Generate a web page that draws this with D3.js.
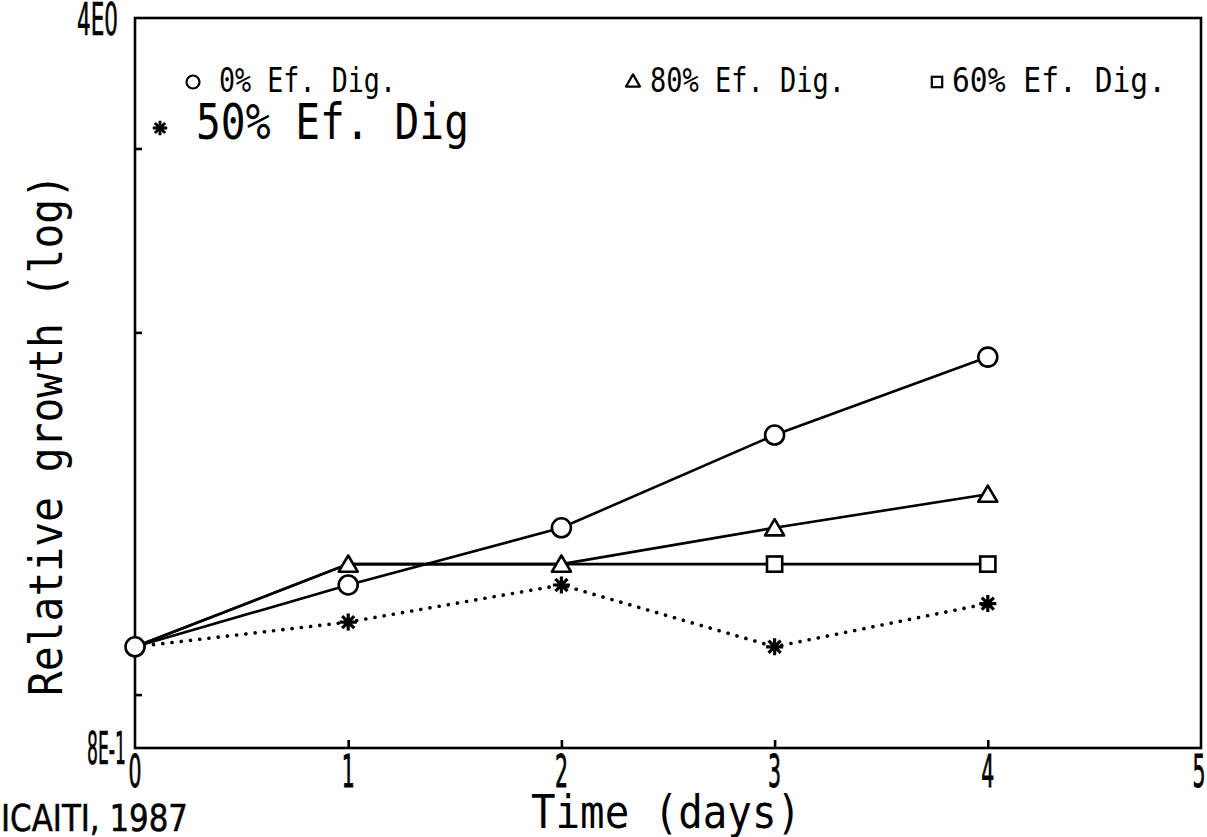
<!DOCTYPE html>
<html>
<head>
<meta charset="utf-8">
<script src="https://cdn.jsdelivr.net/npm/d3@7"></script>
<style>
  html, body { margin: 0; padding: 0; background: #fff; }
  svg { display: block; }
  text { fill: #000; }
</style>
</head>
<body>
<svg id="chart" width="1207" height="837"></svg>
<script>
// Relative growth over time for different effluent digestion levels
const days = [0, 1, 2, 3, 4];
const ef0 = [1.0, 1.146, 1.30, 1.595, 1.894];
const ef80 = [1.0, 1.20, 1.20, 1.30, 1.40];
const ef60 = [1.0, 1.20, 1.20, 1.20, 1.20];
const ef50 = [1.0, 1.056, 1.146, 1.0, 1.10];

const seriesNames = ["0% Ef. Dig.", "80% Ef. Dig.", "60% Ef. Dig.", "50% Ef. Dig"];
const seriesValues = [ef0, ef80, ef60, ef50];
const seriesSymbols = ["circle", "triangle", "square", "star"];
const seriesDash = ["solid", "solid", "solid", "dotted"];

const xTicks = [0, 1, 2, 3, 4, 5];
const yTicks = [0.9, 1, 2, 3];
const yEndLabels = [{ v: 4, label: "4E0" }, { v: 0.8, label: "8E-1" }];

const svg = d3.select("#chart");
const plot = { left: 135, right: 1201, top: 18, bottom: 748 };

const x = d3.scaleLinear().domain([0, 5]).range([plot.left, plot.right]);
const y = d3.scaleLog().domain([0.8, 4]).range([plot.bottom, plot.top]);

const mono = "'DejaVu Sans Mono', 'Liberation Mono', monospace";
const narrow = "'DejaVu Sans Condensed', 'Liberation Sans Narrow', 'DejaVu Sans', sans-serif";

// Frame
svg.append("rect")
  .attr("x", plot.left).attr("y", plot.top)
  .attr("width", plot.right - plot.left).attr("height", plot.bottom - plot.top)
  .attr("fill", "none").attr("stroke", "#000").attr("stroke-width", 2.6);

// Axes with inward ticks
const xAxis = d3.axisBottom(x).tickValues(xTicks.slice(1, -1)).tickSize(-8).tickFormat("");
svg.append("g").attr("transform", `translate(0,${plot.bottom})`).call(xAxis)
  .call(g => g.select(".domain").remove())
  .call(g => g.selectAll("line").attr("stroke-width", 2.6));

const yAxis = d3.axisLeft(y).tickValues(yTicks).tickSize(-7).tickFormat("");
svg.append("g").attr("transform", `translate(${plot.left},0)`).call(yAxis)
  .call(g => g.select(".domain").remove())
  .call(g => g.selectAll("line").attr("stroke-width", 2.6));

// Condensed tick labels
svg.append("g").selectAll("text").data(xTicks).join("text")
  .attr("x", d => (d === 5 ? x(d) - 2 : x(d))).attr("y", 787)
  .attr("text-anchor", "middle")
  .attr("font-family", narrow).attr("font-size", 44)
  .attr("stroke", "#000").attr("stroke-width", 0.8)
  .attr("textLength", 13).attr("lengthAdjust", "spacingAndGlyphs")
  .text(d => d);

svg.append("g").selectAll("text").data(yEndLabels).join("text")
  .attr("x", d => (d.v === 4 ? 118 : 126)).attr("y", d => (d.v === 4 ? 35 : y(d.v) + 16))
  .attr("text-anchor", "end")
  .attr("font-family", narrow).attr("font-size", 44)
  .attr("stroke", "#000").attr("stroke-width", 0.6)
  .attr("textLength", d => (d.v === 4 ? 41 : 39)).attr("lengthAdjust", "spacingAndGlyphs")
  .text(d => d.label);

svg.append("text")
  .attr("x", 1).attr("y", 831)
  .attr("font-family", narrow).attr("font-size", 38)
  .attr("stroke", "#000").attr("stroke-width", 0.5)
  .attr("textLength", 187).attr("lengthAdjust", "spacingAndGlyphs")
  .text("ICAITI, 1987");

// Axis titles
svg.append("text")
  .attr("x", 531).attr("y", 828)
  .attr("font-family", mono).attr("font-size", 46)
  .attr("textLength", 270).attr("lengthAdjust", "spacingAndGlyphs")
  .text("Time (days)");

svg.append("text")
  .attr("transform", "translate(62,696) rotate(-90)")
  .attr("font-family", mono).attr("font-size", 46)
  .attr("textLength", 522).attr("lengthAdjust", "spacingAndGlyphs")
  .text("Relative growth (log)");

// Marker shapes
function drawMarker(g, kind, cx, cy, s, sw) {
  const h = s / 2;
  if (kind === "circle") {
    g.append("circle").attr("cx", cx).attr("cy", cy).attr("r", h)
      .attr("fill", "#fff").attr("stroke", "#000").attr("stroke-width", sw);
  } else if (kind === "triangle") {
    const th = s * 0.8;
    g.append("path")
      .attr("d", `M${cx},${cy - th / 2 - 1}L${cx + h},${cy + th / 2}L${cx - h},${cy + th / 2}Z`)
      .attr("fill", "#fff").attr("stroke", "#000").attr("stroke-width", sw)
      .attr("stroke-linejoin", "round");
  } else if (kind === "square") {
    const q = s * 0.4;
    g.append("rect").attr("x", cx - q).attr("y", cy - q).attr("width", 2 * q).attr("height", 2 * q)
      .attr("fill", "#fff").attr("stroke", "#000").attr("stroke-width", sw);
  } else if (kind === "star") {
    const r = s * 0.45;
    const p = d3.path();
    for (let i = 0; i < 4; i++) {
      const a = Math.PI / 2 + i * Math.PI / 4;
      p.moveTo(cx + r * Math.cos(a), cy + r * Math.sin(a));
      p.lineTo(cx - r * Math.cos(a), cy - r * Math.sin(a));
    }
    g.append("path").attr("d", p.toString())
      .attr("fill", "none").attr("stroke", "#000").attr("stroke-width", sw + 0.6);
  }
}

// Lines
const line = d3.line().x(d => x(d[0])).y(d => y(d[1]));
const lineG = svg.append("g");
seriesValues.forEach((vals, i) => {
  const pts = days.map((d, j) => [d, vals[j]]);
  const path = lineG.append("path").datum(pts).attr("d", line)
    .attr("fill", "none").attr("stroke", "#000");
  if (seriesDash[i] === "dotted") {
    path.attr("stroke-width", 3.6).attr("stroke-dasharray", "0.1 9.2").attr("stroke-linecap", "round");
  } else {
    path.attr("stroke-width", 2.6);
  }
});

// Markers: a point already marked by an earlier series is not drawn again
const markG = svg.append("g");
const taken = new Set();
seriesValues.forEach((vals, i) => {
  days.forEach((d, j) => {
    const key = d + ":" + vals[j];
    if (taken.has(key)) return;
    taken.add(key);
    drawMarker(markG, seriesSymbols[i], x(d), y(vals[j]), 19, 2.6);
  });
});

// Legend
const legendItems = [
  { i: 0, mx: 193, my: 82, tx: 219, ty: 92, fs: 34, w: 177, ms: 13 },
  { i: 1, mx: 633, my: 81, tx: 650, ty: 92, fs: 34, w: 195, ms: 14 },
  { i: 2, mx: 937, my: 82, tx: 952, ty: 92, fs: 34, w: 214, ms: 13 },
  { i: 3, mx: 160, my: 128, tx: 196, ty: 139, fs: 50, w: 273, ms: 16 }
];
const legG = svg.append("g");
legendItems.forEach(it => {
  drawMarker(legG, seriesSymbols[it.i], it.mx, it.my, it.ms, 2.2);
  legG.append("text").attr("x", it.tx).attr("y", it.ty)
    .attr("font-family", mono).attr("font-size", it.fs)
    .attr("textLength", it.w).attr("lengthAdjust", "spacingAndGlyphs")
    .text(seriesNames[it.i]);
});
</script>
</body>
</html>
